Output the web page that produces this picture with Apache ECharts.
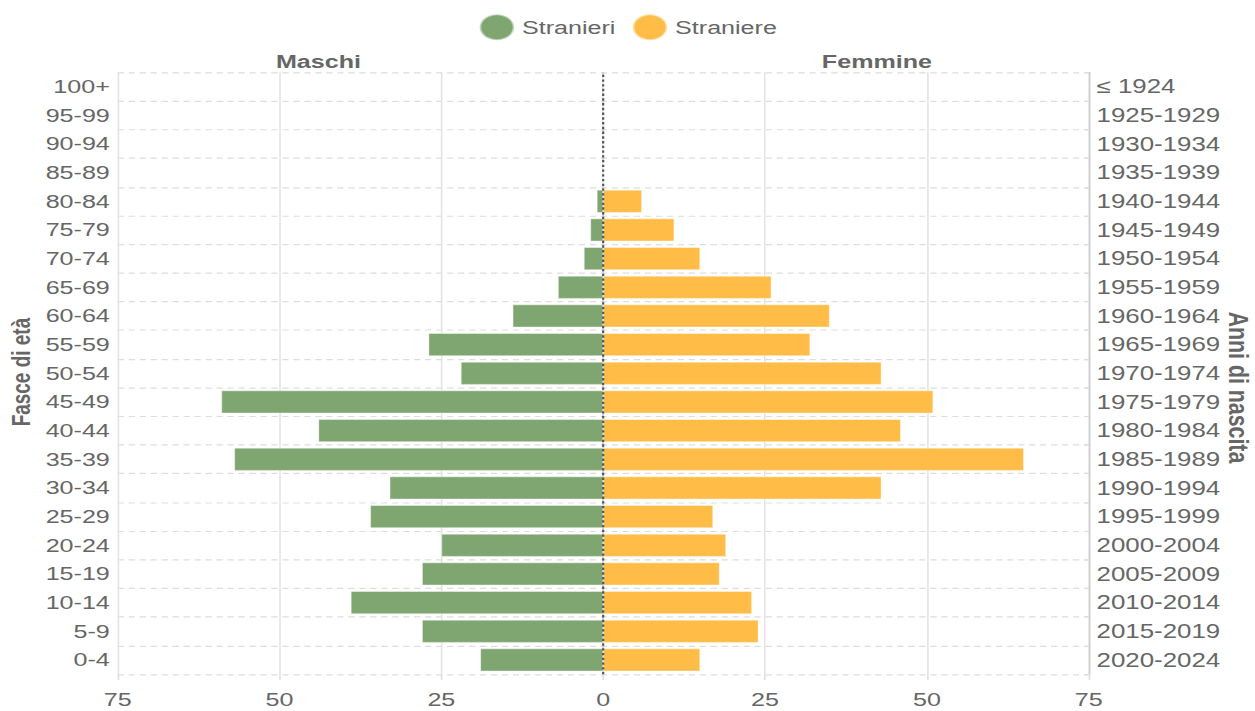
<!DOCTYPE html>
<html>
<head>
<meta charset="utf-8">
<script src="https://cdn.jsdelivr.net/npm/echarts@6/dist/echarts.min.js"></script>
<style>
  html, body { margin: 0; padding: 0; overflow: hidden; background: #fff; }
  #wrap { width: 1255px; height: 711px; overflow: hidden; }
  #c { width: 800px; height: 600px; transform: scale(1.56875, 1.185); transform-origin: 0 0; }
</style>
</head>
<body>
<div id="wrap"><div id="c"></div></div>
<script>
// Age groups, bottom to top
const ageGroups = ["0-4","5-9","10-14","15-19","20-24","25-29","30-34","35-39","40-44","45-49","50-54","55-59","60-64","65-69","70-74","75-79","80-84","85-89","90-94","95-99","100+"];
const birthYears = ["2020-2024","2015-2019","2010-2014","2005-2009","2000-2004","1995-1999","1990-1994","1985-1989","1980-1984","1975-1979","1970-1974","1965-1969","1960-1964","1955-1959","1950-1954","1945-1949","1940-1944","1935-1939","1930-1934","1925-1929","≤ 1924"];
const maschi = [19, 28, 39, 28, 25, 36, 33, 57, 44, 59, 22, 27, 14, 7, 3, 2, 1, 0, 0, 0, 0];
const femmine = [15, 24, 23, 18, 19, 17, 43, 65, 46, 51, 43, 32, 35, 26, 15, 11, 6, 0, 0, 0, 0];
const xTicks = { min: -75, max: 75, interval: 25 };

const FONT = '"Liberation Sans", Arial, sans-serif';
const chart = echarts.init(document.getElementById('c'), null, { renderer: 'svg' });

chart.setOption({
  animation: false,
  textStyle: { fontFamily: FONT },
  legend: {
    top: 6, left: 'center', itemWidth: 22, itemHeight: 22, itemGap: 10, icon: 'circle',
    textStyle: { fontSize: 16, color: '#666', fontFamily: FONT },
    data: ['Stranieri', 'Straniere']
  },
  grid: { left: 75, right: 106, top: 61, bottom: 31, containLabel: false },
  xAxis: {
    type: 'value', min: xTicks.min, max: xTicks.max, interval: xTicks.interval,
    axisLine: { show: false },
    axisTick: { show: true, length: 5, lineStyle: { color: '#ddd' } },
    splitLine: { show: true, lineStyle: { color: '#e3e3e3', width: 1 } },
    axisLabel: { fontSize: 16, color: '#666', margin: 13, formatter: v => String(Math.abs(v)) }
  },
  yAxis: [
    {
      type: 'category', data: ageGroups, position: 'left',
      axisLine: { show: true, lineStyle: { color: '#ccc' } },
      axisTick: { show: false },
      axisLabel: { fontSize: 16, color: '#666', margin: 5 },
      splitLine: { show: true, lineStyle: { color: '#ddd', type: [4, 3] } }
    },
    {
      type: 'category', data: birthYears, position: 'right',
      axisLine: { show: true, lineStyle: { color: '#ccc' } },
      axisTick: { show: true, inside: true, length: 3, lineStyle: { color: '#ddd' } },
      axisLabel: { fontSize: 16.5, color: '#666', margin: 5 },
      splitLine: { show: false }
    }
  ],
  series: [
    {
      name: 'Stranieri', type: 'bar', yAxisIndex: 0,
      data: maschi.map(v => -v),
      barCategoryGap: '20%', barGap: '-100%',
      itemStyle: { color: '#7fa671', borderColor: 'rgba(255,255,255,0.5)', borderWidth: 0.6 },
      markLine: {
        silent: true, symbol: 'none', label: { show: false },
        lineStyle: { color: '#555', type: [2, 2], width: 1.4 },
        data: [{ xAxis: 0 }]
      },
      z: 2
    },
    {
      name: 'Straniere', type: 'bar', yAxisIndex: 0,
      data: femmine,
      barCategoryGap: '20%', barGap: '-100%',
      itemStyle: { color: '#ffbd47', borderColor: 'rgba(255,255,255,0.5)', borderWidth: 0.6 },
      z: 1
    }
  ],
  graphic: [
    { type: 'text', x: 203, y: 52, style: { text: 'Maschi', fill: '#666', font: 'bold 16px ' + FONT, align: 'center', verticalAlign: 'middle' } },
    { type: 'text', x: 559, y: 52, style: { text: 'Femmine', fill: '#666', font: 'bold 16px ' + FONT, align: 'center', verticalAlign: 'middle' } },
    { type: 'text', x: 14, y: 314, rotation: Math.PI / 2, style: { text: 'Fasce di età', fill: '#666', font: 'bold 16px ' + FONT, align: 'center', verticalAlign: 'middle' } },
    { type: 'text', x: 790, y: 327, rotation: -Math.PI / 2, style: { text: 'Anni di nascita', fill: '#666', font: 'bold 18px ' + FONT, align: 'center', verticalAlign: 'middle' } }
  ]
});
</script>
</body>
</html>
